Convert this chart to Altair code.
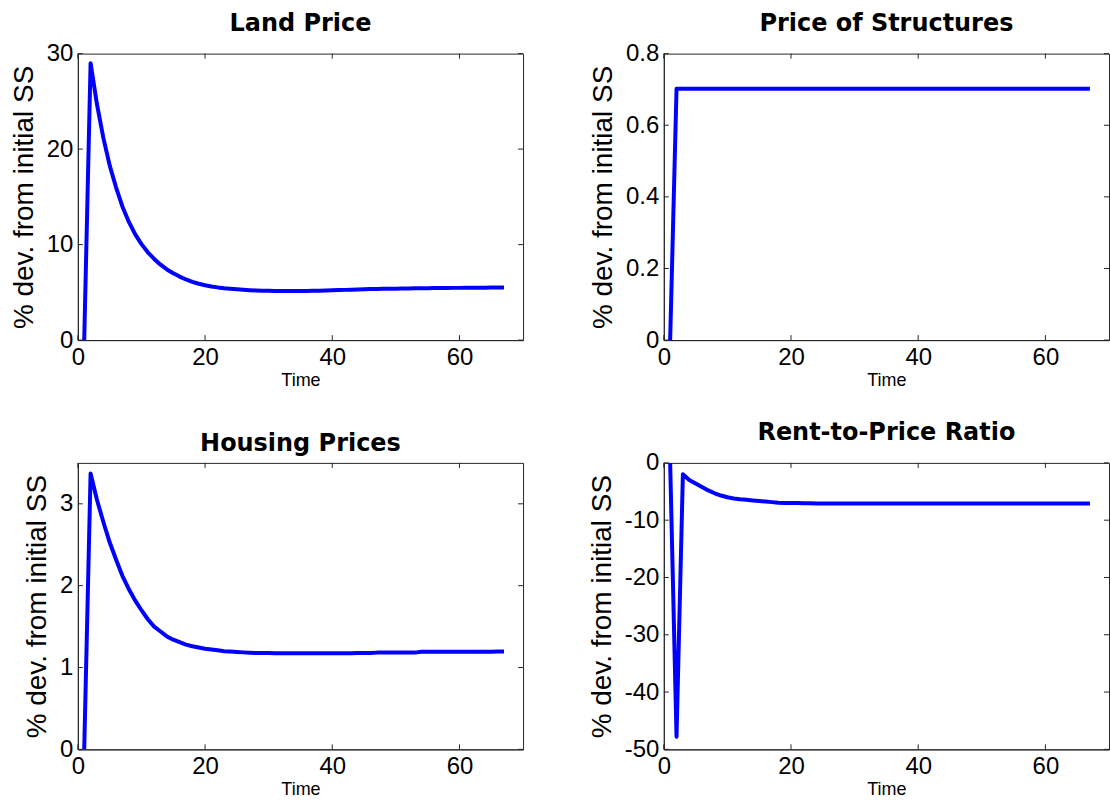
import altair as alt
import pandas as pd

# ---- data ----
time = list(range(1, 68))

land_price = [
    0.0, 29.0, 24.7, 21.2, 18.3, 16.0, 14.0, 12.4, 11.1, 10.05,
    9.2, 8.5, 7.9, 7.4, 7.0, 6.65, 6.35, 6.1, 5.9, 5.75,
    5.62, 5.52, 5.44, 5.38, 5.32, 5.27, 5.23, 5.2, 5.18, 5.16,
    5.15, 5.14, 5.14, 5.14, 5.14,
    5.15, 5.16, 5.18, 5.2, 5.22, 5.24, 5.26, 5.28, 5.3, 5.32, 5.34, 5.36,
    5.37, 5.38, 5.39, 5.4, 5.41, 5.42, 5.43, 5.44, 5.45, 5.46,
    5.46, 5.47, 5.47, 5.48, 5.48, 5.49, 5.49, 5.5, 5.5, 5.5,
]

price_structures = [
    0.0, 0.702, 0.702, 0.702, 0.702, 0.702, 0.702, 0.702, 0.702, 0.702,
    0.702, 0.702, 0.702, 0.702, 0.702, 0.702, 0.702, 0.702, 0.702, 0.702,
    0.702, 0.702, 0.702, 0.702, 0.702, 0.702, 0.702, 0.702, 0.702, 0.702,
    0.702, 0.702, 0.702, 0.702, 0.702, 0.702, 0.702, 0.702, 0.702, 0.702,
    0.702, 0.702, 0.702, 0.702, 0.702, 0.702, 0.702, 0.702, 0.702, 0.702,
    0.702, 0.702, 0.702, 0.702, 0.702, 0.702, 0.702, 0.702, 0.702, 0.702,
    0.702, 0.702, 0.702, 0.702, 0.702, 0.702, 0.702,
]

housing_prices = [
    0.0, 3.37, 3.05, 2.78, 2.53, 2.32, 2.12, 1.96, 1.82, 1.70,
    1.59, 1.50, 1.44, 1.38, 1.34, 1.31, 1.28, 1.26, 1.245, 1.23,
    1.22, 1.21, 1.20, 1.195, 1.19, 1.185, 1.18,
    1.176, 1.176, 1.176, 1.175, 1.175, 1.175, 1.175, 1.175, 1.175, 1.175,
    1.175, 1.175, 1.175, 1.175, 1.175, 1.175, 1.176, 1.176, 1.176,
    1.182, 1.182, 1.182, 1.182, 1.182, 1.182, 1.182,
    1.192, 1.192, 1.192, 1.192, 1.192, 1.192, 1.192, 1.192, 1.192, 1.193,
    1.193, 1.194, 1.195, 1.195,
]

rent_to_price = [
    0.0, -47.8, -2.0, -3.0, -3.6, -4.2, -4.8, -5.3, -5.7, -6.0,
    -6.2, -6.35, -6.45, -6.55, -6.65, -6.75, -6.85, -6.95, -7.0, -7.0,
    -7.0, -7.05, -7.05, -7.1, -7.1, -7.1, -7.1, -7.1, -7.1, -7.1,
    -7.1, -7.1, -7.1, -7.1, -7.1, -7.1, -7.1, -7.1, -7.1, -7.1,
    -7.1, -7.1, -7.1, -7.1, -7.1, -7.1, -7.1, -7.1, -7.1, -7.1,
    -7.1, -7.1, -7.1, -7.1, -7.1, -7.1, -7.1, -7.1, -7.1, -7.1,
    -7.1, -7.1, -7.1, -7.1, -7.1, -7.1, -7.1,
]

titles = ["Land Price", "Price of Structures", "Housing Prices", "Rent-to-Price Ratio"]
series = [land_price, price_structures, housing_prices, rent_to_price]
y_domains = [[0, 30], [0, 0.8], [0, 3.5], [-50, 0]]
y_ticks = [[0, 10, 20, 30], [0, 0.2, 0.4, 0.6, 0.8], [0, 1, 2, 3], [-50, -40, -30, -20, -10, 0]]
x_domain = [0, 70]
x_ticks = [0, 20, 40, 60]

W, H = 446, 287
TL = 5
AX = "#262626"


def panel(title, vals, ydom, yt):
    df = pd.DataFrame({"t": time, "v": vals})
    xs = alt.Scale(domain=x_domain, nice=False, zero=False)
    ys = alt.Scale(domain=ydom, nice=False, zero=False)
    xax = alt.Axis(values=x_ticks, title="Time", labelFlush=False,
                   labelExpr="datum.value + ''")
    yax = alt.Axis(values=yt, title="% dev. from initial SS",
                   labelExpr="datum.value + ''")
    line = alt.Chart(df).mark_line(
        color="#0000ff", strokeWidth=4, strokeJoin="round", clip=True
    ).encode(
        x=alt.X("t:Q", scale=xs, axis=xax),
        y=alt.Y("v:Q", scale=ys, axis=yax),
    )
    xdf = pd.DataFrame({"p": x_ticks})
    ydf = pd.DataFrame({"p": yt})
    xb = alt.Chart(xdf).mark_rule(color=AX, strokeWidth=1).encode(
        x=alt.X("p:Q", scale=xs, axis=xax), y=alt.value(H), y2=alt.value(H - TL))
    xtop = alt.Chart(xdf).mark_rule(color=AX, strokeWidth=1).encode(
        x=alt.X("p:Q", scale=xs, axis=xax), y=alt.value(0), y2=alt.value(TL))
    yl = alt.Chart(ydf).mark_rule(color=AX, strokeWidth=1).encode(
        y=alt.Y("p:Q", scale=ys, axis=yax), x=alt.value(0), x2=alt.value(TL))
    yr = alt.Chart(ydf).mark_rule(color=AX, strokeWidth=1).encode(
        y=alt.Y("p:Q", scale=ys, axis=yax), x=alt.value(W - TL), x2=alt.value(W))
    return alt.layer(line, xb, xtop, yl, yr).properties(
        width=W, height=H, title=title)


charts = [panel(t, s, d, yt) for t, s, d, yt in zip(titles, series, y_domains, y_ticks)]

chart = alt.concat(
    *charts, columns=2, spacing={"row": 123, "column": 141}, bounds="flush"
).properties(
    padding={"left": 9, "top": 10, "right": 0, "bottom": 0},
    background="white",
).configure_view(
    stroke=AX, strokeWidth=1
).configure_axis(
    grid=False, ticks=False, domainColor=AX, domainWidth=1,
    labelFont="Liberation Sans", labelFontSize=24, labelColor="black",
    titleFont="Liberation Sans", titleFontWeight="normal", titleColor="black",
).configure_axisX(
    labelPadding=5, titleFontSize=18, titlePadding=2,
).configure_axisY(
    labelPadding=5, titleFontSize=28, titlePadding=8,
).configure_title(
    font="DejaVu Sans", fontWeight="bold", fontSize=24, color="black",
    offset=6, anchor="middle",
)

chart.save("out.html", embed_options={"renderer": "svg", "actions": False})
